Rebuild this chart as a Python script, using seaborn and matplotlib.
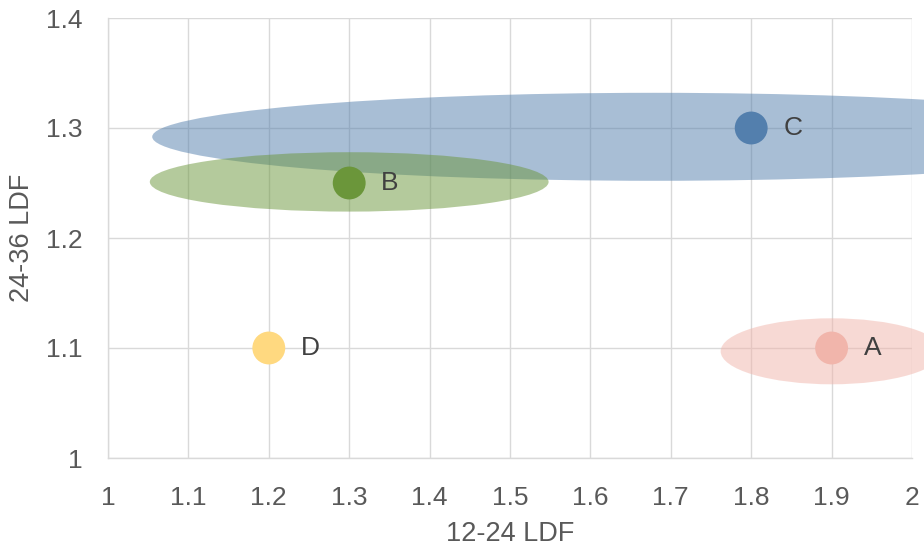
import matplotlib
matplotlib.use("Agg")
import matplotlib.pyplot as plt
from matplotlib.patches import Ellipse
import seaborn as sns
import pandas as pd

# Development factors per segment
segments = ["A", "B", "C", "D"]
ldf_12_24 = [1.9, 1.3, 1.8, 1.2]
ldf_24_36 = [1.1, 1.25, 1.3, 1.1]
colors = ["#F1B5AB", "#6B963A", "#537FAD", "#FFD980"]

# Uncertainty ellipses: centre and half-spread on each axis
ell_segments = ["C", "B", "A"]
ell_cx = [1.68, 1.30, 1.90]
ell_cy = [1.292, 1.251, 1.097]
ell_hx = [0.625, 0.248, 0.138]
ell_hy = [0.040, 0.027, 0.030]

df = pd.DataFrame({"segment": segments, "x": ldf_12_24, "y": ldf_24_36})

sns.set_theme(style="white")
plt.rcParams["font.family"] = ["Liberation Sans", "DejaVu Sans"]

fig, ax = plt.subplots(figsize=(9.24, 5.48), dpi=100)
fig.subplots_adjust(left=108 / 924, right=912 / 924, top=1 - 18 / 548, bottom=1 - 458 / 548)

color_of = dict(zip(segments, colors))
for seg, cx, cy, hx, hy in zip(ell_segments, ell_cx, ell_cy, ell_hx, ell_hy):
    e = Ellipse((cx, cy), 2 * hx, 2 * hy, facecolor=color_of[seg], alpha=0.5,
                edgecolor="none", clip_on=False, zorder=2)
    ax.add_patch(e)

sns.scatterplot(data=df, x="x", y="y", hue="segment", palette=colors,
                s=560, edgecolor="none", legend=False, ax=ax, zorder=3,
                clip_on=False)

for seg, x, y in zip(segments, ldf_12_24, ldf_24_36):
    ax.annotate(seg, (x, y), xytext=(23, 0), textcoords="offset points",
                ha="left", va="center", fontsize=19, color="#404040", zorder=4)

ax.set_xlim(1, 2)
ax.set_ylim(1, 1.4)
ax.set_xticks([1 + 0.1 * i for i in range(11)])
ax.set_xticklabels(["1", "1.1", "1.2", "1.3", "1.4", "1.5", "1.6", "1.7", "1.8", "1.9", "2"])
ax.set_yticks([1, 1.1, 1.2, 1.3, 1.4])
ax.set_yticklabels(["1", "1.1", "1.2", "1.3", "1.4"])
ax.grid(True, color="#D9D9D9", linewidth=1.0, zorder=0)
ax.set_axisbelow(True)
for side in ["top", "right"]:
    ax.spines[side].set_visible(False)
for side in ["left", "bottom"]:
    ax.spines[side].set_color("#D9D9D9")
    ax.spines[side].set_linewidth(1.0)
ax.tick_params(axis="both", length=0, labelsize=19, labelcolor="#595959")
ax.tick_params(axis="x", pad=20)
ax.tick_params(axis="y", pad=18.5)
ax.set_xlabel("12-24 LDF", fontsize=19.5, color="#595959", labelpad=8)
ax.set_ylabel("24-36 LDF", fontsize=19.5, color="#595959", labelpad=8)

fig.savefig("out.png", dpi=100)
